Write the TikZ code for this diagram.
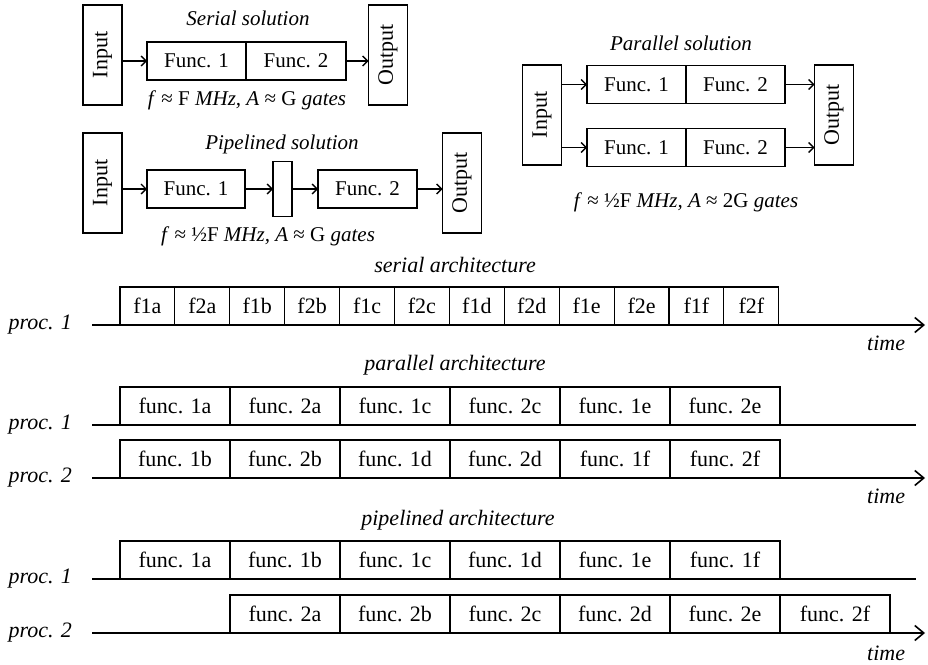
\documentclass[tikz,border=0pt]{standalone}
\usepackage{fontspec}
\usepackage{graphicx}
\setmainfont{Liberation Serif}
\usetikzlibrary{arrows.meta}
\newcommand\fsz[1]{\fontsize{#1}{#1}\selectfont}
\begin{document}
\begin{tikzpicture}[x=1pt,y=-1pt,
  every node/.style={inner sep=0pt, outer sep=0pt},
  iobox/.style={draw, line width=1.6pt, minimum width=39pt, minimum height=100pt},
  regbox/.style={draw, line width=1.6pt, minimum width=19pt, minimum height=55pt},
  fnbox/.style={draw, line width=1.4pt, minimum height=38pt, font=\fsz{21}},
  flow/.style={line width=1.4pt, -{Straight Barb[length=5pt,width=10pt,line width=1.4pt]}},
  ttl/.style={font=\fsz{21}\itshape},
  formula/.style={font=\fsz{21}},
  cell/.style={draw, line width=1.1pt, minimum height=38pt, font=\fsz{22}, anchor=south west},
  axis/.style={line width=2pt},
  axisarrow/.style={line width=2pt, -{Straight Barb[length=9pt,width=15pt,line width=1.6pt]}},
  archttl/.style={font=\fsz{22}\itshape},
  proclbl/.style={font=\fsz{22}\itshape, anchor=east},
  timelbl/.style={font=\fsz{22}\itshape, anchor=east}]
\useasboundingbox (0,0) rectangle (928,664);

% ---------- serial solution ----------
\node[ttl] (sttl) at (248,18) {Serial solution};
\node[iobox] (sin) at (102.5,55) {};
\node[font=\fsz{22}, rotate=90] at (sin.center) {Input};
\node[fnbox, minimum width=99pt] (sf1) at (196.5,61) {Func. 1};
\node[fnbox, minimum width=100pt, anchor=west] (sf2) at (sf1.east) {Func. 2};
\node[iobox] (sout) at (388,55) {};
\node[font=\fsz{22}, rotate=90] at (sout.center) {Output};
\draw[flow] (sin.east |- sf1.west) -- (sf1.west);
\draw[flow] (sf2.east) -- (sout.west |- sf2.east);
\node[formula] (sfrm) at (247,100) {\textit{f} ≈ F \textit{MHz, A} ≈ G \textit{gates}};

% ---------- pipelined solution ----------
\node[ttl] (pttl) at (282,144) {Pipelined solution};
\node[iobox] (pin) at (102.5,183) {};
\node[font=\fsz{22}, rotate=90] at (pin.center) {Input};
\node[fnbox, minimum width=98pt] (pf1) at (196,189) {Func. 1};
\node[regbox] (preg) at (282.5,189) {};
\node[fnbox, minimum width=99pt] (pf2) at (367.5,189) {Func. 2};
\node[iobox] (pout) at (462,183) {};
\node[font=\fsz{22}, rotate=90] at (pout.center) {Output};
\draw[flow] (pin.east |- pf1.west) -- (pf1.west);
\draw[flow] (pf1.east) -- (preg.west);
\draw[flow] (preg.east) -- (pf2.west);
\draw[flow] (pf2.east) -- (pout.west |- pf2.east);
\node[formula] (pfrm) at (268,236) {\textit{f} ≈ ½F \textit{MHz, A} ≈ G \textit{gates}};

% ---------- parallel solution ----------
\node[ttl] (qttl) at (681,43) {Parallel solution};
\node[iobox] (qin) at (542,115) {};
\node[font=\fsz{22}, rotate=90] at (qin.center) {Input};
\node[fnbox, minimum width=99pt] (qa1) at (636.5,84.5) {Func. 1};
\node[fnbox, minimum width=99pt, anchor=west] (qa2) at (qa1.east) {Func. 2};
\node[fnbox, minimum width=99pt] (qb1) at (636.5,147.5) {Func. 1};
\node[fnbox, minimum width=99pt, anchor=west] (qb2) at (qb1.east) {Func. 2};
\node[iobox] (qout) at (834,115) {};
\node[font=\fsz{22}, rotate=90] at (qout.center) {Output};
\draw[flow] (qin.east |- qa1.west) -- (qa1.west);
\draw[flow] (qin.east |- qb1.west) -- (qb1.west);
\draw[flow] (qa2.east) -- (qout.west |- qa2.east);
\draw[flow] (qb2.east) -- (qout.west |- qb2.east);
\node[formula] (qfrm) at (686,202) {\textit{f} ≈ ½F \textit{MHz, A} ≈ 2G \textit{gates}};

% ---------- serial architecture timeline ----------
\node[archttl] (satl) at (455,265) {serial architecture};
\foreach \t [count=\i from 0] in {f1a,f2a,f1b,f2b,f1c,f2c,f1d,f2d,f1e,f2e,f1f,f2f}
  \node[cell, minimum width=54.9pt] (s\i) at ({120+54.9*\i},325) {\t};
\coordinate (sa0) at (92,325);
\coordinate (sa1) at (925,325);
\draw[axisarrow] (sa0) -- (sa1);
\node[proclbl] (sp1) at (72,325) {proc. 1};
\node[timelbl] (st) at (905,343) {time};

% ---------- parallel architecture timeline ----------
\node[archttl] (patl) at (455,365) {parallel architecture};
\foreach \t [count=\i from 0] in {1a,2a,1c,2c,1e,2e}
  \node[cell, minimum width=110pt] (pa\i) at ({120+110*\i},425) {func. \t};
\foreach \t [count=\i from 0] in {1b,2b,1d,2d,1f,2f}
  \node[cell, minimum width=110pt] (pb\i) at ({120+110*\i},478) {func. \t};
\coordinate (pa0x) at (92,425);
\coordinate (pa1x) at (916,425);
\coordinate (pb0x) at (92,478);
\coordinate (pb1x) at (925,478);
\draw[axis] (pa0x) -- (pa1x);
\draw[axisarrow] (pb0x) -- (pb1x);
\node[proclbl] (pp1) at (72,425) {proc. 1};
\node[proclbl] (pp2) at (72,478) {proc. 2};
\node[timelbl] (pt) at (905,496) {time};

% ---------- pipelined architecture timeline ----------
\node[archttl] (latl) at (458,520) {pipelined architecture};
\foreach \t [count=\i from 0] in {1a,1b,1c,1d,1e,1f}
  \node[cell, minimum width=110pt] (la\i) at ({120+110*\i},579) {func. \t};
\foreach \t [count=\i from 0] in {2a,2b,2c,2d,2e,2f}
  \node[cell, minimum width=110pt] (lb\i) at ({230+110*\i},633) {func. \t};
\coordinate (la0x) at (92,579);
\coordinate (la1x) at (916,579);
\coordinate (lb0x) at (92,633);
\coordinate (lb1x) at (925,633);
\draw[axis] (la0x) -- (la1x);
\draw[axisarrow] (lb0x) -- (lb1x);
\node[proclbl] (lp1) at (72,579) {proc. 1};
\node[proclbl] (lp2) at (72,633) {proc. 2};
\node[timelbl] (lt) at (905,653) {time};
\end{tikzpicture}
\end{document}
